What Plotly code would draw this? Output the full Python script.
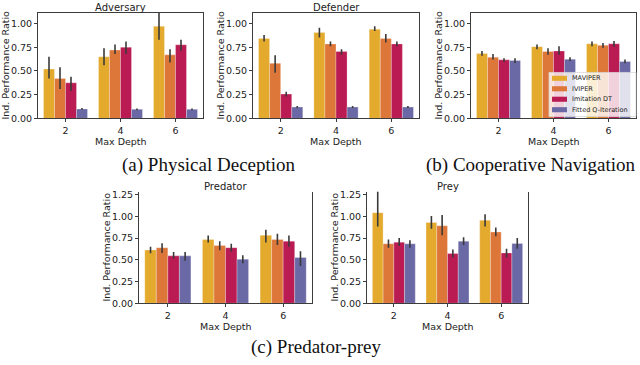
import plotly.graph_objects as go

W, H = 640, 365

depths = ["2", "4", "6"]
methods = ["MAVIPER", "IVIPER", "Imitation DT", "Fitted Q-Iteration"]
colors = ["#E3AA2E", "#DD7639", "#BA1B52", "#6B69A5"]

# rows: MAVIPER, IVIPER, Imitation DT, Fitted Q-Iteration ; cols: depth 2, 4, 6
adversary_mean = [[0.52, 0.65, 0.97], [0.42, 0.72, 0.67], [0.375, 0.75, 0.775], [0.10, 0.096, 0.096]]
adversary_lo = [[0.42, 0.56, 0.83], [0.31, 0.68, 0.59], [0.29, 0.68, 0.71], [0.09, 0.087, 0.087]]
adversary_hi = [[0.65, 0.74, 1.12], [0.54, 0.78, 0.73], [0.44, 0.81, 0.83], [0.11, 0.105, 0.105]]

defender_mean = [[0.843, 0.904, 0.94], [0.58, 0.785, 0.843], [0.256, 0.706, 0.785], [0.12, 0.12, 0.12]]
defender_lo = [[0.81, 0.853, 0.92], [0.48, 0.76, 0.80], [0.23, 0.67, 0.76], [0.11, 0.11, 0.11]]
defender_hi = [[0.88, 0.955, 0.97], [0.665, 0.81, 0.89], [0.28, 0.73, 0.81], [0.13, 0.13, 0.13]]

coop_mean = [[0.685, 0.756, 0.786], [0.644, 0.705, 0.77], [0.617, 0.71, 0.786], [0.61, 0.624, 0.60]]
coop_lo = [[0.66, 0.73, 0.76], [0.62, 0.67, 0.745], [0.595, 0.67, 0.755], [0.585, 0.605, 0.58]]
coop_hi = [[0.71, 0.78, 0.81], [0.68, 0.74, 0.795], [0.635, 0.76, 0.815], [0.635, 0.645, 0.62]]

predator_mean = [[0.614, 0.734, 0.783], [0.64, 0.666, 0.734], [0.546, 0.64, 0.715], [0.546, 0.508, 0.527]]
predator_lo = [[0.576, 0.70, 0.70], [0.58, 0.61, 0.67], [0.516, 0.595, 0.65], [0.49, 0.46, 0.43]]
predator_hi = [[0.65, 0.78, 0.847], [0.69, 0.715, 0.80], [0.59, 0.685, 0.78], [0.59, 0.553, 0.60]]

prey_mean = [[1.043, 0.93, 0.956], [0.685, 0.892, 0.82], [0.704, 0.572, 0.58], [0.685, 0.715, 0.689]]
prey_lo = [[0.885, 0.858, 0.885], [0.64, 0.783, 0.772], [0.659, 0.527, 0.527], [0.64, 0.67, 0.629]]
prey_hi = [[1.32, 1.005, 1.024], [0.734, 1.017, 0.873], [0.753, 0.62, 0.629], [0.727, 0.76, 0.753]]

top_ticks = [0, 0.25, 0.5, 0.75, 1.0]
bottom_ticks = [0, 0.25, 0.5, 0.75, 1.0, 1.25]

titles = ["Adversary", "Defender", "", "Predator", "Prey"]
captions = ["(a) Physical Deception", "(b) Cooperative Navigation", "(c) Predator-prey"]
ylabel = "Ind. Performance Ratio"
xlabel = "Max Depth"

# panel boxes in pixels: (x0, x1, y0, y1)
boxes = [(38, 203, 10, 118), (253, 419, 10, 118), (471, 636, 10, 118),
         (139, 312, 193, 307), (367, 528, 193, 307)]
yranges = [[0, 1.113]] * 3 + [[0, 1.284]] * 2
panels = [(adversary_mean, adversary_lo, adversary_hi),
          (defender_mean, defender_lo, defender_hi),
          (coop_mean, coop_lo, coop_hi),
          (predator_mean, predator_lo, predator_hi),
          (prey_mean, prey_lo, prey_hi)]

def px(x):
    return x / W

def py(y):
    return 1 - y / H

fig = go.Figure()
font = "DejaVu Sans"
axcol = "#3c3c3c"
tfs = 9.5

def note(x, y, text, size=10, fam=font, angle=0, xanchor="center", color="#222"):
    fig.add_annotation(x=px(x), y=py(y), xref="paper", yref="paper", text=text,
                       showarrow=False, xanchor=xanchor, yanchor="middle", textangle=angle,
                       borderpad=0, font=dict(family=fam, size=size, color=color))

for p, (mean, lo, hi) in enumerate(panels):
    sfx = "" if p == 0 else str(p + 1)
    for m in range(4):
        fig.add_trace(go.Bar(
            x=depths, y=mean[m], name=methods[m],
            marker=dict(color=colors[m], line=dict(color="rgba(255,255,255,0.35)", width=0.8)),
            error_y=dict(type="data", symmetric=False,
                         array=[h - v for h, v in zip(hi[m], mean[m])],
                         arrayminus=[v - l for v, l in zip(mean[m], lo[m])],
                         color="#3a3a3a", thickness=1.6, width=0),
            xaxis="x" + sfx, yaxis="y" + sfx, showlegend=False,
        ))
    x0, x1, y0, y1 = boxes[p]
    top = p < 3
    ticks = top_ticks if top else bottom_ticks
    fig.layout["xaxis" + sfx] = dict(
        domain=[px(x0), px(x1)], anchor="y" + sfx, type="category",
        range=[-0.5, 2.5], showline=True, linecolor=axcol, linewidth=1,
        mirror=top, ticks="outside", ticklen=3, tickcolor=axcol,
        tickfont=dict(family=font, size=tfs, color="#222"), showgrid=False, zeroline=False)
    fig.layout["yaxis" + sfx] = dict(
        domain=[py(y1), py(y0)], anchor="x" + sfx, range=yranges[p],
        tickvals=ticks, ticktext=["%.2f" % t for t in ticks],
        showline=True, linecolor=axcol, linewidth=1, mirror=True,
        ticks="outside", ticklen=3, tickcolor=axcol,
        tickfont=dict(family=font, size=tfs, color="#222"), showgrid=False, zeroline=False)

    cx = (x0 + x1) / 2
    if titles[p]:
        note(cx, y0 - 5.5, titles[p])
    note(x0 - 32, (y0 + y1) / 2, ylabel, size=9.5, angle=-90)
    note(cx, y1 + 23.5, xlabel, size=9.5)

cap_pos = [(209, 166), (530, 166), (316, 352)]
for c, (cx, cy) in zip(captions, cap_pos):
    note(cx, cy, c, size=19, fam="Liberation Serif", color="#111")

# legend drawn inside the Cooperative Navigation panel
lx0, lx1, ly0, ly1 = 549, 636, 71, 116
fig.add_shape(type="rect", xref="paper", yref="paper", x0=px(lx0), x1=px(lx1), y0=py(ly1), y1=py(ly0),
              fillcolor="rgba(255,255,255,0.8)", line=dict(color="#d8d8d8", width=0.8), layer="above")
for m in range(4):
    yc = 77 + m * 10.7
    fig.add_shape(type="rect", xref="paper", yref="paper", x0=px(552), x1=px(567),
                  y0=py(yc + 2.6), y1=py(yc - 2.6), fillcolor=colors[m], line=dict(width=0), layer="above")
    note(571, yc, methods[m], size=6.5, xanchor="left")

fig.update_layout(width=W, height=H, margin=dict(l=0, r=0, t=0, b=0),
                  paper_bgcolor="white", plot_bgcolor="white",
                  barmode="group", bargap=0.2, bargroupgap=0, showlegend=False)

fig.write_html("out.html", config={"displayModeBar": False},
               post_script="document.body.style.margin='0';document.body.style.padding='0';")
